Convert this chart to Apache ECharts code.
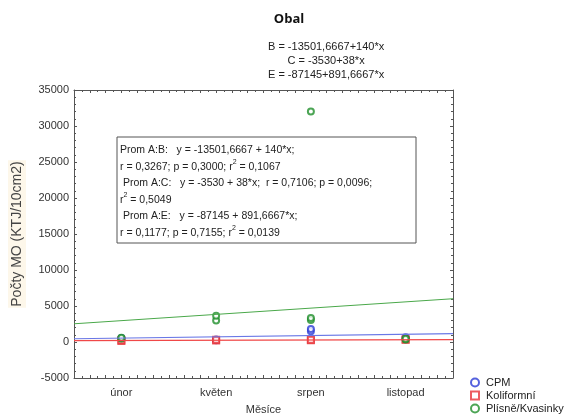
<!DOCTYPE html>
<html>
<head>
<meta charset="utf-8">
<script src="https://cdn.jsdelivr.net/npm/echarts@6/dist/echarts.min.js"></script>
<style>
  html, body { margin: 0; padding: 0; background: #fff; }
  #chart { width: 568px; height: 420px; }
</style>
</head>
<body>
<div id="chart"></div>
<script>
// months on x axis (month number) and their labels
var monthPos = [2, 5, 8, 11];
var monthLabels = ['únor', 'květen', 'srpen', 'listopad'];

// measured points [month, count]
var cpmPoints = [[2, 450], [2, 550], [5, 250], [5, 350], [8, 1500], [8, 1800], [11, 450], [11, 650]];
var koliPoints = [[2, 150], [2, 250], [5, 200], [5, 300], [8, 250], [8, 300], [11, 300], [11, 350]];
var plisnePoints = [[2, 500], [2, 600], [5, 3000], [5, 3650], [8, 3050], [8, 3350], [8, 32000], [11, 350], [11, 450]];

// fitted lines, values at the ends of x range
var fitX = [0.5, 12.5];
var cpmFit = [450, 1150];
var koliFit = [200, 330];
var plisneFit = [2530, 6010];

var titleText = 'Obal';
var eqLines = ['B = -13501,6667+140*x', 'C = -3530+38*x', 'E = -87145+891,6667*x'];
var boxLines = [
    'Prom A:B:   y = -13501,6667 + 140*x;',
    'r = 0,3267; p = 0,3000; r{s|2} = 0,1067',
    ' Prom A:C:   y = -3530 + 38*x;  r = 0,7106; p = 0,0096;',
    'r{s|2} = 0,5049',
    ' Prom A:E:   y = -87145 + 891,6667*x;',
    'r = 0,1177; p = 0,7155; r{s|2} = 0,0139'
];

var blue = '#2b3bd6', red = '#e8343a', green = '#1f8f2a';
var axisCol = '#555';

function fitData(vals) {
    return fitX.map(function (x, i) { return [x, vals[i]]; });
}

function frameAxis(extra) {
    var a = {
        type: 'value',
        axisLine: { show: true, onZero: false, lineStyle: { color: axisCol } },
        axisTick: { inside: true, length: 3, lineStyle: { color: axisCol } },
        minorTick: { show: true, length: 2, lineStyle: { color: axisCol } },
        splitLine: { show: false },
        axisLabel: { show: false }
    };
    for (var k in extra) a[k] = extra[k];
    return a;
}

var chart = echarts.init(document.getElementById('chart'));
chart.setOption({
    animation: false,
    textStyle: { fontFamily: 'Liberation Sans' },
    title: {
        text: titleText,
        left: 284, top: 8, textAlign: 'center',
        textStyle: { fontFamily: 'Open Sans', fontWeight: 'bold', fontSize: 13, color: '#111' }
    },
    grid: { left: 73, right: 115, top: 90, bottom: 40 },
    legend: {
        orient: 'vertical', left: 470, top: 377, padding: 0,
        itemWidth: 8, itemHeight: 8, itemGap: 2,
        textStyle: { fontSize: 11, color: '#222', padding: [0, 0, 0, 2] },
        data: ['CPM', 'Koliformní', 'Plísně/Kvasinky']
    },
    xAxis: [frameAxis({
        min: 0.5, max: 12.5, interval: 0.5,
        name: 'Měsíce', nameLocation: 'middle', nameGap: 26,
        nameTextStyle: { fontSize: 11, color: '#333' },
        minorTick: { show: true, splitNumber: 2, length: 2, lineStyle: { color: axisCol } },
        axisLabel: {
            fontSize: 11, color: '#333', margin: 9,
            formatter: function (v) {
                var i = monthPos.indexOf(v);
                return i >= 0 ? monthLabels[i] : '';
            }
        }
    }), frameAxis({
        min: 0.5, max: 12.5, interval: 0.5, position: 'top',
        minorTick: { show: true, splitNumber: 2, length: 2, lineStyle: { color: axisCol } }
    })],
    yAxis: [frameAxis({
        min: -5000, max: 35000, interval: 5000,
        name: 'Počty MO (KTJ/10cm2)', nameLocation: 'middle', nameGap: 48,
        nameTextStyle: { fontSize: 14, color: '#444', backgroundColor: '#fdf7ea', padding: [2, 1] },
        minorTick: { show: true, splitNumber: 5, length: 2, lineStyle: { color: axisCol } },
        axisLabel: { fontSize: 11, color: '#333', margin: 5, formatter: function (v) { return String(v); } }
    }), frameAxis({
        min: -5000, max: 35000, interval: 5000, position: 'right',
        minorTick: { show: true, splitNumber: 5, length: 2, lineStyle: { color: axisCol } }
    })],
    series: [
        { name: 'CPMfit', type: 'line', data: fitData(cpmFit), symbol: 'none', silent: true,
          lineStyle: { color: '#6a78e6', width: 1.2 } },
        { name: 'Kolifit', type: 'line', data: fitData(koliFit), symbol: 'none', silent: true,
          lineStyle: { color: '#f04848', width: 1.2 } },
        { name: 'Plisnefit', type: 'line', data: fitData(plisneFit), symbol: 'none', silent: true,
          lineStyle: { color: '#4aa84a', width: 1 } },
        { name: 'CPM', type: 'scatter', data: cpmPoints, symbol: 'emptyCircle', symbolSize: 6,
          itemStyle: { color: blue, borderWidth: 1.5 } },
        { name: 'Koliformní', type: 'scatter', data: koliPoints, symbol: 'emptyRect', symbolSize: 6,
          itemStyle: { color: red, borderWidth: 1.5 } },
        { name: 'Plísně/Kvasinky', type: 'scatter', data: plisnePoints, symbol: 'emptyCircle', symbolSize: 6,
          itemStyle: { color: green, borderWidth: 1.5 } }
    ],
    graphic: [{
        type: 'text', left: 268, top: 40,
        style: {
            text: eqLines.join('\n'), fontSize: 11, lineHeight: 14, fill: '#222',
            textAlign: 'center', fontFamily: 'Liberation Sans'
        }
    }, {
        type: 'rect', shape: { x: 117, y: 137, width: 299, height: 106 },
        style: { fill: '#fff', stroke: '#555', lineWidth: 1 }
    }, {
        type: 'text', left: 120, top: 142,
        style: {
            text: boxLines.join('\n'), fontSize: 10.5, lineHeight: 16.5, fill: '#222',
            fontFamily: 'Liberation Sans',
            rich: { s: { fontSize: 7, verticalAlign: 'top', lineHeight: 16.5, padding: [0, 0, 6, 0] } }
        }
    }]
});
</script>
</body>
</html>
